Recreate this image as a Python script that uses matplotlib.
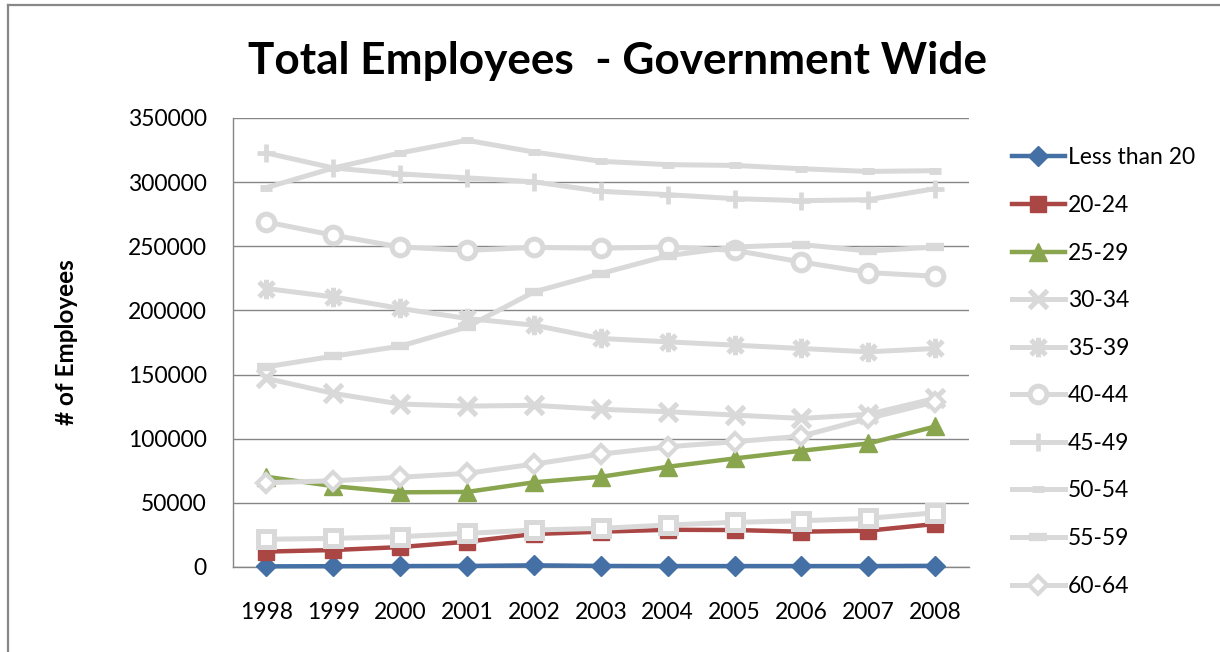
import matplotlib.pyplot as plt
import numpy as np
from matplotlib.path import Path
from matplotlib.lines import Line2D

# Anni e conteggi per fascia d'eta'
anni = ['1998', '1999', '2000', '2001', '2002', '2003', '2004', '2005', '2006', '2007', '2008']

meno_20 = [500, 600, 700, 800, 1300, 800, 700, 700, 700, 700, 900]
eta_20_24 = [12000, 13200, 15500, 19700, 25700, 27500, 29000, 28800, 27500, 28300, 33500]
eta_25_29 = [70300, 63000, 58200, 58500, 66000, 70300, 78100, 84600, 90600, 96300, 109500]
eta_30_34 = [147000, 135300, 127000, 125400, 126000, 122900, 121000, 118400, 115800, 119000, 131400]
eta_35_39 = [217000, 210500, 201500, 193700, 188500, 178100, 175500, 172900, 170300, 167700, 170300]
eta_40_44 = [268900, 258600, 249400, 246800, 249100, 248400, 249400, 246800, 237700, 229500, 226600]
eta_45_49 = [322700, 311000, 306400, 303300, 300200, 292800, 290200, 287100, 285500, 286300, 294900]
eta_50_54 = [295700, 311000, 322700, 332600, 323400, 316200, 313600, 313000, 310400, 308300, 308900]
eta_55_59 = [156000, 164300, 172100, 187100, 214400, 228700, 242600, 249400, 251300, 246300, 249400]
eta_60_64 = [65700, 67200, 69900, 73000, 80200, 88000, 93700, 97600, 102000, 115800, 128700]
eta_65_piu = [21600, 22300, 23600, 26200, 28800, 30100, 32700, 34800, 36000, 37900, 42300]

etichette = ['Less than 20', '20-24', '25-29', '30-34', '35-39', '40-44',
             '45-49', '50-54', '55-59', '60-64', '65+']
serie = [meno_20, eta_20_24, eta_25_29, eta_30_34, eta_35_39, eta_40_44,
         eta_45_49, eta_50_54, eta_55_59, eta_60_64, eta_65_piu]

plt.rcParams['font.family'] = ['Lato', 'DejaVu Sans']

# marker "stella": x con barra verticale
stella = Path([(-1, -1), (1, 1), (-1, 1), (1, -1), (0, -1.3), (0, 1.3)],
              [Path.MOVETO, Path.LINETO, Path.MOVETO, Path.LINETO, Path.MOVETO, Path.LINETO])

grigio = '#d9d9d9'
stili = [
    dict(color='#4470a5', lw=3.2, marker='D', ms=10.5, mfc='#4470a5', mec='#4470a5'),
    dict(color='#aa4643', lw=3.2, marker='s', ms=11, mfc='#aa4643', mec='#aa4643'),
    dict(color='#89a54e', lw=3.2, marker='^', ms=13, mfc='#89a54e', mec='#89a54e'),
    dict(color=grigio, lw=3.6, marker='x', ms=13, mew=3.6, mec=grigio),
    dict(color=grigio, lw=3.6, marker=stella, ms=14, mew=3.6, mec=grigio),
    dict(color=grigio, lw=3.6, marker='o', ms=12, mew=3.6, mfc='white', mec=grigio),
    dict(color=grigio, lw=3.6, marker='+', ms=13, mew=3.4, mec=grigio),
    dict(color=grigio, lw=3.6, marker='_', ms=8, mew=5, mec=grigio),
    dict(color=grigio, lw=3.6, marker='_', ms=13, mew=6, mec=grigio),
    dict(color=grigio, lw=3.6, marker='D', ms=9, mew=3, mfc='white', mec=grigio),
    dict(color=grigio, lw=3.6, marker='s', ms=12, mew=3.6, mfc='white', mec=grigio),
]

fig = plt.figure(figsize=(12.2, 6.52), dpi=100)
ax = fig.add_axes([0.191, 0.1304, 0.603, 0.6887])

x = np.arange(len(anni))
handles = []
for valori, nome, st in zip(serie, etichette, stili):
    h, = ax.plot(x, valori, label=nome, zorder=3, clip_on=False, **st)
    handles.append(h)

ax.set_xlim(-0.5, len(anni) - 0.5)
ax.set_ylim(0, 350000)
ax.set_yticks(np.arange(0, 350001, 50000))
ax.set_xticks(x)
ax.set_xticklabels(anni)

# griglia orizzontale e assi grigi
ax.grid(axis='y', color='#868686', linewidth=1.0, zorder=0)
ax.set_axisbelow(True)
for lato in ['top', 'right']:
    ax.spines[lato].set_visible(False)
for lato in ['left', 'bottom']:
    ax.spines[lato].set_color('#868686')
    ax.spines[lato].set_linewidth(1.0)
ax.tick_params(axis='both', length=0, labelsize=16.5)
ax.tick_params(axis='y', pad=19)
ax.tick_params(axis='x', pad=25)

ax.set_ylabel('# of Employees', fontsize=17.5, fontweight='bold', labelpad=36)

fig.text(0.506, 0.907, 'Total Employees  - Government Wide',
         ha='center', va='center', fontsize=31.8, fontweight='bold')

# legenda solo per le prime dieci fasce
fig.legend(handles=handles[:10], labels=etichette[:10],
           loc='upper left', bbox_to_anchor=(0.822, 0.788),
           frameon=False, fontsize=16.5, handlelength=2.3,
           handletextpad=0.15, labelspacing=1.16, borderaxespad=0)

# cornice esterna
fig.add_artist(Line2D([8 / 1220, 8 / 1220], [0, 1 - 5 / 652], color='#878787', lw=1.6))
fig.add_artist(Line2D([8 / 1220, 1], [1 - 5 / 652, 1 - 5 / 652], color='#878787', lw=1.6))

plt.savefig('out.png', dpi=100)
